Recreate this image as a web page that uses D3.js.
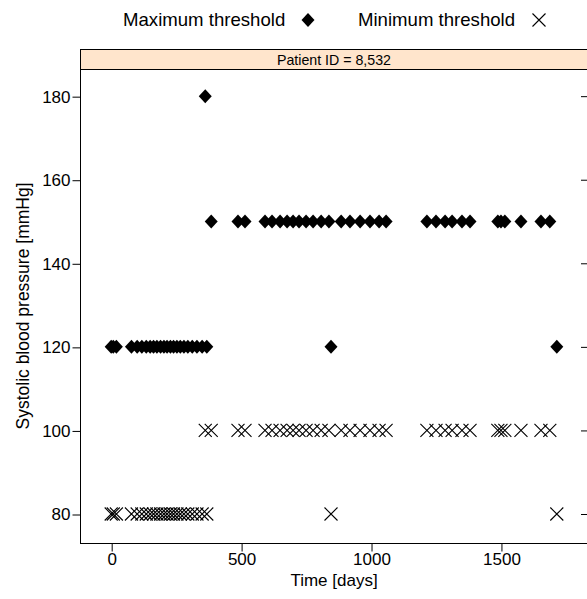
<!DOCTYPE html>
<html>
<head>
<meta charset="utf-8">
<script src="https://cdn.jsdelivr.net/npm/d3@7"></script>
<style>
  body { margin: 0; background: #fff; }
  text { font-family: "Liberation Sans", Arial, sans-serif; fill: #000; }
</style>
</head>
<body>
<svg id="chart" width="587" height="599"></svg>
<script>
// dias de medicion y umbrales (mmHg)
var days = [0, 8, 20, 78, 100, 118, 135, 150, 163, 176, 190, 203, 215, 228, 240, 253, 266, 280, 295, 312, 330, 350, 368,
            362, 385,
            488, 515, 592, 619, 650, 677, 700, 723, 750, 777, 808, 838, 885, 919, 958, 996, 1031, 1058,
            1215, 1250, 1285, 1312, 1350, 1381, 1488, 1500, 1515, 1577, 1654, 1688,
            846, 1715];
var maxThreshold = [120, 120, 120, 120, 120, 120, 120, 120, 120, 120, 120, 120, 120, 120, 120, 120, 120, 120, 120, 120, 120, 120, 120,
                    180, 150,
                    150, 150, 150, 150, 150, 150, 150, 150, 150, 150, 150, 150, 150, 150, 150, 150, 150, 150,
                    150, 150, 150, 150, 150, 150, 150, 150, 150, 150, 150, 150,
                    120, 120];
var minThreshold = [80, 80, 80, 80, 80, 80, 80, 80, 80, 80, 80, 80, 80, 80, 80, 80, 80, 80, 80, 80, 80, 80, 80,
                    100, 100,
                    100, 100, 100, 100, 100, 100, 100, 100, 100, 100, 100, 100, 100, 100, 100, 100, 100, 100,
                    100, 100, 100, 100, 100, 100, 100, 100, 100, 100, 100, 100,
                    80, 80];
var xTicks = [0, 500, 1000, 1500];
var yTicks = [80, 100, 120, 140, 160, 180];
var stripLabel = "Patient ID = 8,532";

var svg = d3.select('#chart');

var pLeft = 80, pRight = 588, pTop = 69, pBottom = 543;

var xScale = d3.scaleLinear().domain([-120, 1835]).range([pLeft, pRight]),
    yScale = d3.scaleLinear().domain([73.06, 186.5]).range([pBottom, pTop]);

var diamond = "M0,-7L6.5,0L0,7L-6.5,0Z";
var cross = "M-6.5,-6.5L6.5,6.5M-6.5,6.5L6.5,-6.5";

/* Leyenda */
svg.append("text").attr("x", 123).attr("y", 26).attr("font-size", "18.6px").text("Maximum threshold");
svg.append("path").attr("d", diamond).attr("transform", "translate(308,20)").attr("fill", "#000");
svg.append("text").attr("x", 358).attr("y", 26).attr("font-size", "18.6px").text("Minimum threshold");
svg.append("path").attr("d", cross).attr("transform", "translate(539,20)")
    .attr("stroke", "#000").attr("stroke-width", 1.1).attr("fill", "none");

/* Strip */
svg.append("rect")
    .attr("x", pLeft + 0.5).attr("y", 49.5)
    .attr("width", pRight - pLeft).attr("height", pTop - 49)
    .attr("fill", "#ffe5cc").attr("stroke", "#000").attr("stroke-width", 1);
svg.append("text")
    .attr("x", (pLeft + pRight) / 2).attr("y", 64.5)
    .attr("text-anchor", "middle").attr("font-size", "14.2px")
    .text(stripLabel);

/* Panel */
svg.append("rect")
    .attr("x", pLeft + 0.5).attr("y", pTop + 0.5)
    .attr("width", pRight - pLeft).attr("height", pBottom - pTop)
    .attr("fill", "none").attr("stroke", "#000").attr("stroke-width", 1);

// ejes
var gx = svg.append('g').attr('transform', 'translate(0.5,' + (pBottom + 0.5) + ')')
    .call(d3.axisBottom(xScale).tickValues(xTicks).tickFormat(d3.format("d")).tickSize(8).tickPadding(1));
var gy = svg.append('g').attr('transform', 'translate(' + (pLeft + 0.5) + ',0.5)')
    .call(d3.axisLeft(yScale).tickValues(yTicks).tickFormat(d3.format("d")).tickSize(8).tickPadding(2));
[gx, gy].forEach(function(g){
    g.select('.domain').remove();
    g.selectAll('.tick line').attr('stroke', '#000');
    g.selectAll('.tick text').attr('font-size', '17px').attr('font-family', '"Liberation Sans", Arial, sans-serif').attr('fill', '#000');
});

// marcas del lado derecho
svg.append('g').selectAll('line')
    .data(yTicks).enter().append('line')
    .attr('x1', 581).attr('x2', 588)
    .attr('y1', function(d){ return yScale(d) + 0.5; })
    .attr('y2', function(d){ return yScale(d) + 0.5; })
    .attr('stroke', '#000');

svg.append("text")
    .attr("x", (pLeft + pRight) / 2).attr("y", 586)
    .attr("text-anchor", "middle").attr("font-size", "17px")
    .text("Time [days]");
svg.append("text")
    .attr("transform", "translate(29," + ((pTop + pBottom) / 2) + ") rotate(-90)")
    .attr("text-anchor", "middle").attr("font-size", "17.5px")
    .text("Systolic blood pressure [mmHg]");

/* Puntos */
var g = svg.append('g');
g.selectAll('.maxp')
    .data(days).enter().append('path')
    .attr('class', 'maxp')
    .attr('d', diamond)
    .attr('fill', '#000')
    .attr('transform', function(d, i){ return 'translate(' + xScale(d) + ',' + yScale(maxThreshold[i]) + ')'; });
g.selectAll('.minp')
    .data(days).enter().append('path')
    .attr('class', 'minp')
    .attr('d', cross)
    .attr('fill', 'none').attr('stroke', '#000').attr('stroke-width', 1.1)
    .attr('transform', function(d, i){ return 'translate(' + xScale(d) + ',' + yScale(minThreshold[i]) + ')'; });
</script>
</body>
</html>
